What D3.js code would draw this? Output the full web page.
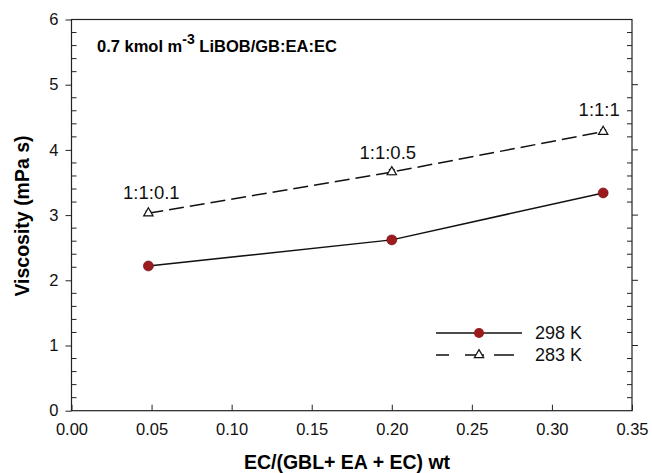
<!DOCTYPE html>
<html><head><meta charset="utf-8">
<script src="https://cdn.jsdelivr.net/npm/d3@7"></script>
<style>body{margin:0;background:#fff}svg{display:block}text{font-family:"Liberation Sans",Arial,sans-serif}</style>
</head><body>
<svg id="c" width="652" height="473"></svg>
<script>
const xValues = [0.048, 0.2, 0.332];
const series298 = [2.22, 2.62, 3.34];
const series283 = [3.03, 3.66, 4.28];
const err298 = [0.05, 0.05, 0.03];
const err283 = [0.03, 0.04, 0.03];
const ratioLabels = ["1:1:0.1", "1:1:0.5", "1:1:1"];
const xTicks = [0, 0.05, 0.10, 0.15, 0.20, 0.25, 0.30, 0.35];
const yTicks = [0, 1, 2, 3, 4, 5, 6];
const legendNames = ["298 K", "283 K"];

const svg = d3.select("#c");
const L = 71.5, R = 632, T = 19.5, B = 410.7;
const x = d3.scaleLinear().domain([0, 0.35]).range([L, R]);
const y = d3.scaleLinear().domain([0, 6]).range([B, T]);

svg.append("rect").attr("x", L).attr("y", T).attr("width", R - L).attr("height", B - T)
  .attr("fill", "none").attr("stroke", "#222").attr("stroke-width", 1.2);

const xa = svg.append("g").attr("transform", `translate(0,${B})`)
  .call(d3.axisBottom(x).tickValues(xTicks).tickFormat(d3.format(".2f")).tickSizeInner(-6).tickSizeOuter(0).tickPadding(13));
xa.select(".domain").remove();
xa.selectAll("line").attr("stroke", "#222");
xa.selectAll("text").attr("font-size", 16.5).attr("fill", "#111");

const ya = svg.append("g").attr("transform", `translate(${L},0)`)
  .call(d3.axisLeft(y).tickValues(yTicks).tickFormat(d3.format("d")).tickSizeInner(6).tickSizeOuter(0).tickPadding(7));
ya.select(".domain").remove();
ya.selectAll("line").attr("stroke", "#222");
ya.selectAll("text").attr("font-size", 16.5).attr("fill", "#111");
const minor = d3.range(0, 6.001, 0.2).filter(v => Math.abs(v - Math.round(v)) > 0.01);
svg.append("g").selectAll("line").data(minor).join("line")
  .attr("x1", L).attr("x2", L + 5).attr("y1", d => y(d)).attr("y2", d => y(d)).attr("stroke", "#222");
svg.append("g").selectAll("line").data(yTicks.slice(1, -1)).join("line")
  .attr("x1", R).attr("x2", R + 6).attr("y1", d => y(d)).attr("y2", d => y(d)).attr("stroke", "#222");
svg.append("g").selectAll("line").data(minor).join("line")
  .attr("x1", R - 5).attr("x2", R).attr("y1", d => y(d)).attr("y2", d => y(d)).attr("stroke", "#222");

svg.append("text").attr("x", 347).attr("y", 469).attr("text-anchor", "middle")
  .attr("font-size", 19.5).attr("font-weight", "bold").text("EC/(GBL+ EA + EC) wt");
svg.append("text").attr("transform", `translate(29,216) rotate(-90)`).attr("text-anchor", "middle")
  .attr("font-size", 19.5).attr("font-weight", "bold").text("Viscosity (mPa s)");

const tt = svg.append("text").attr("x", 97).attr("y", 52).attr("font-size", 16.5).attr("font-weight", "bold");
tt.append("tspan").text("0.7 kmol m");
tt.append("tspan").attr("dy", -8).attr("font-size", 14).text("-3");
tt.append("tspan").attr("dy", 8).text(" LiBOB/GB:EA:EC");

const line = d3.line().x(d => x(d[0])).y(d => y(d[1]));
const d298 = xValues.map((v, i) => [v, series298[i], err298[i]]);
const d283 = xValues.map((v, i) => [v, series283[i], err283[i]]);

svg.append("path").datum(d283).attr("d", line).attr("fill", "none").attr("stroke", "#111")
  .attr("stroke-width", 1.5).attr("stroke-dasharray", "15,6");
svg.append("path").datum(d298).attr("d", line).attr("fill", "none").attr("stroke", "#111")
  .attr("stroke-width", 1.5);

function errBars(data) {
  const g = svg.append("g").attr("stroke", "#111").attr("stroke-width", 1);
  data.forEach(d => {
    g.append("line").attr("x1", x(d[0])).attr("x2", x(d[0])).attr("y1", y(d[1] - d[2])).attr("y2", y(d[1] + d[2]));
    g.append("line").attr("x1", x(d[0]) - 3).attr("x2", x(d[0]) + 3).attr("y1", y(d[1] - d[2])).attr("y2", y(d[1] - d[2]));
    g.append("line").attr("x1", x(d[0]) - 3).attr("x2", x(d[0]) + 3).attr("y1", y(d[1] + d[2])).attr("y2", y(d[1] + d[2]));
  });
}
errBars(d298); errBars(d283);

const tri = d3.symbol().type(d3.symbolTriangle).size(38);
svg.append("g").selectAll("circle").data(d298).join("circle")
  .attr("cx", d => x(d[0])).attr("cy", d => y(d[1])).attr("r", 5).attr("fill", "#9b1b1e").attr("stroke", "#6e1012").attr("stroke-width", 0.6);
svg.append("g").selectAll("path").data(d283).join("path")
  .attr("d", tri).attr("transform", d => `translate(${x(d[0])},${y(d[1])})`)
  .attr("fill", "#fff").attr("stroke", "#111").attr("stroke-width", 1.2);

const labOff = [[3, -14], [-4, -13], [-4, -16]];
svg.append("g").selectAll("text").data(d283).join("text")
  .attr("x", (d, i) => x(d[0]) + labOff[i][0]).attr("y", (d, i) => y(d[1]) + labOff[i][1])
  .attr("text-anchor", "middle").attr("font-size", 18.5).attr("fill", "#111")
  .text((d, i) => ratioLabels[i]);

const lg = svg.append("g");
lg.append("line").attr("x1", 436).attr("x2", 522).attr("y1", 333).attr("y2", 333).attr("stroke", "#111").attr("stroke-width", 1.5);
lg.append("circle").attr("cx", 479).attr("cy", 333).attr("r", 5).attr("fill", "#9b1b1e");
lg.append("line").attr("x1", 436).attr("x2", 522).attr("y1", 355).attr("y2", 355).attr("stroke", "#111").attr("stroke-width", 1.5).attr("stroke-dasharray", "13,16,19,10,20");
lg.append("path").attr("d", tri).attr("transform", "translate(479,355)").attr("fill", "#fff").attr("stroke", "#111").attr("stroke-width", 1.2);
lg.selectAll("text").data(legendNames).join("text")
  .attr("x", 535).attr("y", (d, i) => 339 + i * 22).attr("font-size", 18).attr("fill", "#111").text(d => d);
</script>
</body></html>
